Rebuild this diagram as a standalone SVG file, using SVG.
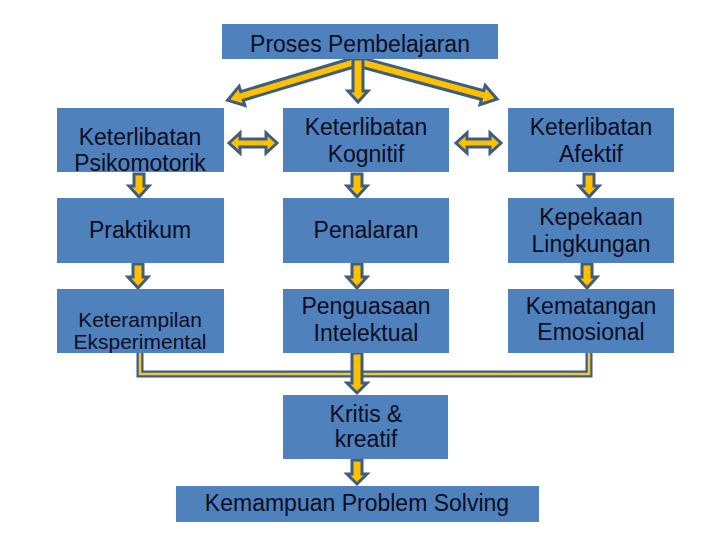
<svg xmlns="http://www.w3.org/2000/svg" width="720" height="540" viewBox="0 0 720 540">
<style>
.box{fill:#4F81BD;}
.t{font-family:"Liberation Sans",Arial,sans-serif;font-size:23px;fill:#0d0d1f;text-anchor:middle;}
.s{font-size:21px;}
.arr{fill:#FFC000;stroke:#3F5D7E;stroke-width:3;stroke-linejoin:miter;}
.lo{fill:none;stroke:#3F5D7E;stroke-width:7;}
.li{fill:none;stroke:#F2C53D;stroke-width:2.5;}
</style>
<rect width="720" height="540" fill="#ffffff"/>
<g id="connectors">
  <g transform="translate(355,62) rotate(163.3)">
    <path class="arr" d="M0,-4.5 H118 V-10 L133,0 L118,10 V4.5 H0 Z"/>
  </g>
  <g transform="translate(360,62) rotate(15.1)">
    <path class="arr" d="M0,-4.5 H127 V-10 L142,0 L127,10 V4.5 H0 Z"/>
  </g>
  <path class="arr" d="M353,59 H363 V91 H368 L358,102 L348,91 H353 Z"/>
  <path class="arr" d="M229,143 L240,133 V139 H266 V133 L277,143 L266,153 V147 H240 V153 Z"/>
  <path class="arr" d="M456,143 L467,133 V139 H490 V133 L501,143 L490,153 V147 H467 V153 Z"/>
  <path class="arr" d="M134,174 H144 V186 H149 L139,197 L129,186 H134 Z"/>
  <path class="arr" d="M352,174 H362 V186 H367 L357,197 L347,186 H352 Z"/>
  <path class="arr" d="M584,174 H594 V186 H599 L589,197 L579,186 H584 Z"/>
  <path class="arr" d="M133,264 H143 V277 H148 L138,288 L128,277 H133 Z"/>
  <path class="arr" d="M352,264 H362 V277 H367 L357,288 L347,277 H352 Z"/>
  <path class="arr" d="M582,264 H592 V277 H597 L587,288 L577,277 H582 Z"/>
  <path class="lo" d="M140,353 V374 H589 V353"/>
  <path class="li" d="M140,353 V374 H589 V353"/>
  <path class="arr" d="M352,353 H362 V383 H367 L357,393 L347,383 H352 Z"/>
  <path class="arr" d="M352,460 H362 V474 H367 L357,484 L347,474 H352 Z"/>
</g>
<g id="proses"><rect class="box" x="222" y="24" width="276" height="35"/><text class="t" x="360" y="52">Proses Pembelajaran</text></g>
<g id="psikomotorik"><rect class="box" x="57" y="108" width="167" height="64"/><text class="t" x="140" y="145">Keterlibatan</text><text class="t" x="140" y="171">Psikomotorik</text></g>
<g id="kognitif"><rect class="box" x="283" y="108" width="166" height="64"/><text class="t" x="366" y="135">Keterlibatan</text><text class="t" x="366" y="162">Kognitif</text></g>
<g id="afektif"><rect class="box" x="508" y="108" width="166" height="64"/><text class="t" x="591" y="135">Keterlibatan</text><text class="t" x="591" y="162">Afektif</text></g>
<g id="praktikum"><rect class="box" x="57" y="198" width="167" height="65"/><text class="t" x="140" y="238">Praktikum</text></g>
<g id="penalaran"><rect class="box" x="283" y="198" width="166" height="65"/><text class="t" x="366" y="238">Penalaran</text></g>
<g id="kepekaan"><rect class="box" x="508" y="198" width="166" height="65"/><text class="t" x="591" y="225">Kepekaan</text><text class="t" x="591" y="252">Lingkungan</text></g>
<g id="keterampilan"><rect class="box" x="57" y="289" width="167" height="64"/><text class="t s" x="140" y="327">Keterampilan</text><text class="t s" x="140" y="349">Eksperimental</text></g>
<g id="penguasaan"><rect class="box" x="283" y="289" width="166" height="64"/><text class="t" x="366" y="314">Penguasaan</text><text class="t" x="366" y="341">Intelektual</text></g>
<g id="kematangan"><rect class="box" x="508" y="289" width="166" height="64"/><text class="t" x="591" y="314">Kematangan</text><text class="t" x="591" y="340">Emosional</text></g>
<g id="kritis"><rect class="box" x="283" y="395" width="165" height="64"/><text class="t" x="366" y="422">Kritis &amp;</text><text class="t" x="366" y="447">kreatif</text></g>
<g id="problem"><rect class="box" x="176" y="486" width="363" height="36"/><text class="t" x="357" y="511">Kemampuan Problem Solving</text></g>
</svg>
